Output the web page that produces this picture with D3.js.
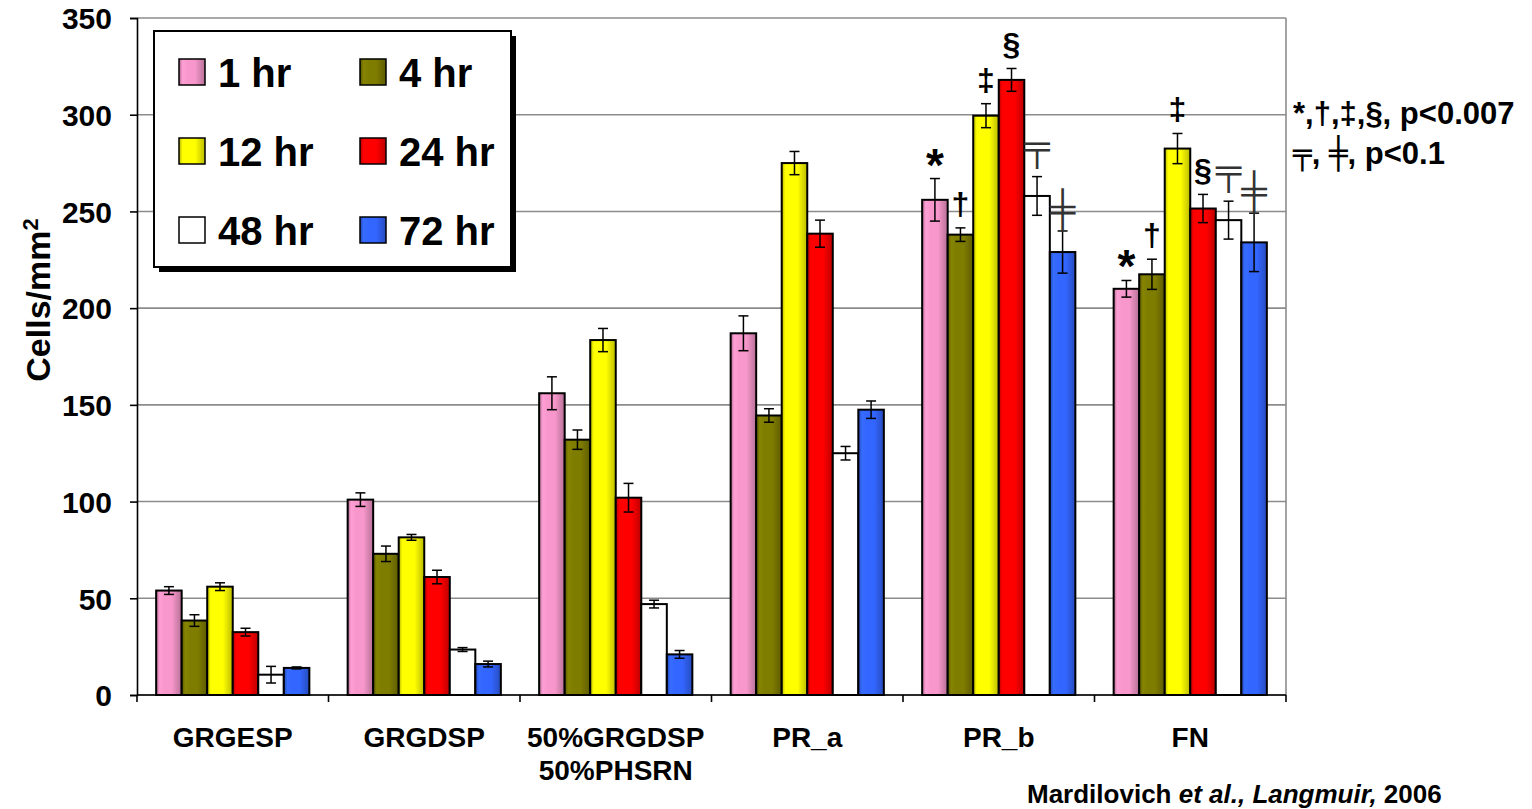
<!DOCTYPE html>
<html>
<head>
<meta charset="utf-8">
<script src="https://cdn.jsdelivr.net/npm/d3@7/dist/d3.min.js"></script>
<style>
  html, body { margin: 0; padding: 0; background: #fff; }
  svg { display: block; }
  text { font-family: "Liberation Sans", Arial, Helvetica, sans-serif; font-weight: bold; fill: #000; }
</style>
</head>
<body>
<svg id="chart" width="1532" height="809"></svg>
<script>
// Surfaces tested
const categories = ["GRGESP", "GRGDSP", "50%GRGDSP|50%PHSRN", "PR_a", "PR_b", "FN"];

// Incubation times (legend order)
const seriesNames = ["1 hr", "4 hr", "12 hr", "24 hr", "48 hr", "72 hr"];
const seriesColors = ["#f797cb", "#7f7d00", "#ffff00", "#ff0000", "#ffffff", "#3366ff"];

// Adhered cells per mm², one array per incubation time (values across categories)
const hr1  = [54, 101, 156, 187, 256, 210];
const hr4  = [38.5, 73, 132, 144.5, 238, 217.5];
const hr12 = [56, 81.5, 183.5, 275, 299.5, 282.5];
const hr24 = [32.5, 61, 102, 238.5, 318, 251.5];
const hr48 = [10.5, 23.5, 47, 125, 258, 245.5];
const hr72 = [14, 16, 21, 147.5, 229, 234];

// Standard errors, same layout
const hr1Err  = [2, 3.5, 8.5, 9, 11, 4.3];
const hr4Err  = [3, 4, 5, 3.5, 3.5, 7.8];
const hr12Err = [2, 1.5, 6, 6, 6.2, 7.8];
const hr24Err = [2, 3.5, 7.4, 7, 5.9, 7.3];
const hr48Err = [4.3, 1, 2, 3.5, 10, 9.8];
const hr72Err = [0.5, 1.5, 2, 4.5, 10.9, 15.1];

// Significance marks: [category index, series index, symbol]
const marks = [
  [4, 0, "*"], [4, 1, "\u2020"], [4, 2, "\u2021"], [4, 3, "\u00a7"], [4, 4, "\u2564"], [4, 5, "\u256a"],
  [5, 0, "*"], [5, 1, "\u2020"], [5, 2, "\u2021"], [5, 3, "\u00a7"], [5, 4, "\u2564"], [5, 5, "\u256a"]
];

const yTicks = [0, 50, 100, 150, 200, 250, 300, 350];

const values = [hr1, hr4, hr12, hr24, hr48, hr72];
const errors = [hr1Err, hr4Err, hr12Err, hr24Err, hr48Err, hr72Err];

const svg = d3.select("#chart");
const plot = { left: 137, right: 1286, top: 18, bottom: 695 };

const x = d3.scaleBand().domain(categories).range([plot.left, plot.right])
  .paddingInner(0.2).paddingOuter(0.1);
const xs = d3.scaleBand().domain(d3.range(seriesNames.length)).range([0, x.bandwidth()]);
const y = d3.scaleLinear().domain([0, 350]).range([plot.bottom, plot.top]);

// Shaded fills for the bars: darker edges, bright band left of centre
const defs = svg.append("defs");
seriesColors.forEach((c, i) => {
  const g = defs.append("linearGradient").attr("id", "shade" + i)
    .attr("x1", "0%").attr("x2", "100%").attr("y1", "0%").attr("y2", "0%");
  const base = d3.color(c);
  const stops = i === 4
    ? [[0, "#ffffff"], [1, "#ffffff"]]
    : [[0, base.darker(1.0)], [0.14, base.brighter(0.15)], [0.32, base], [0.62, base], [1, base.darker(0.85)]];
  stops.forEach(([o, col]) => g.append("stop").attr("offset", o).attr("stop-color", col));
});

// Horizontal gridlines
svg.append("g").selectAll("line").data(yTicks).join("line")
  .attr("x1", plot.left).attr("x2", plot.right)
  .attr("y1", d => y(d)).attr("y2", d => y(d))
  .attr("stroke", "#8c8c8c").attr("stroke-width", 1.6);
// Right border of the plot area
svg.append("line").attr("x1", plot.right).attr("x2", plot.right)
  .attr("y1", plot.top).attr("y2", plot.bottom)
  .attr("stroke", "#8c8c8c").attr("stroke-width", 1.6);

// Y axis
const yAxis = svg.append("g").attr("transform", `translate(${plot.left},0)`)
  .call(d3.axisLeft(y).tickValues(yTicks).tickSize(7).tickPadding(18).tickFormat(d3.format("d")));
yAxis.select(".domain").attr("stroke", "#000").attr("stroke-width", 1.6);
yAxis.selectAll(".tick line").attr("stroke", "#000").attr("stroke-width", 1.6);
yAxis.selectAll(".tick text").attr("font-size", 30).attr("font-family", null).attr("dy", "0.36em");

// Y axis title
svg.append("text")
  .attr("transform", "translate(50,300) rotate(-90)")
  .attr("text-anchor", "middle").attr("font-size", 34)
  .text("Cells/mm")
  .append("tspan").attr("baseline-shift", "super").attr("font-size", 22).text("2");

// Bars
const groups = svg.append("g").selectAll("g").data(categories).join("g")
  .attr("transform", d => `translate(${x(d)},0)`);

groups.each(function (cat, ci) {
  const g = d3.select(this);
  const rows = seriesNames.map((s, si) => ({ si, v: values[si][ci], e: errors[si][ci] }));
  g.selectAll("rect").data(rows).join("rect")
    .attr("x", d => xs(d.si)).attr("width", xs.bandwidth())
    .attr("y", d => y(d.v)).attr("height", d => y(0) - y(d.v))
    .attr("fill", d => `url(#shade${d.si})`)
    .attr("stroke", "#000").attr("stroke-width", 2);
  // Error bars
  const eb = g.selectAll("g.err").data(rows).join("g").attr("class", "err")
    .attr("stroke", "#000").attr("stroke-width", 1.5);
  const cx = d => xs(d.si) + xs.bandwidth() / 2;
  eb.append("line").attr("x1", cx).attr("x2", cx)
    .attr("y1", d => y(d.v + d.e)).attr("y2", d => y(d.v - d.e));
  eb.append("line").attr("x1", d => cx(d) - 5).attr("x2", d => cx(d) + 5)
    .attr("y1", d => y(d.v + d.e)).attr("y2", d => y(d.v + d.e));
  eb.append("line").attr("x1", d => cx(d) - 5).attr("x2", d => cx(d) + 5)
    .attr("y1", d => y(d.v - d.e)).attr("y2", d => y(d.v - d.e));
});

// X axis line with boundary ticks
svg.append("line").attr("x1", plot.left).attr("x2", plot.right)
  .attr("y1", plot.bottom).attr("y2", plot.bottom)
  .attr("stroke", "#000").attr("stroke-width", 1.6);
const step = x.step();
const bounds = d3.range(categories.length + 1).map(i => plot.left + i * step);
svg.append("g").selectAll("line").data(bounds).join("line")
  .attr("x1", d => d).attr("x2", d => d)
  .attr("y1", plot.bottom).attr("y2", plot.bottom + 7)
  .attr("stroke", "#000").attr("stroke-width", 1.6);

// Category labels (two lines where split by "|")
svg.append("g").selectAll("text").data(categories).join("text")
  .attr("x", d => x(d) + x.bandwidth() / 2)
  .attr("y", 747)
  .attr("text-anchor", "middle").attr("font-size", 28)
  .each(function (d) {
    const parts = d.split("|");
    d3.select(this).selectAll("tspan").data(parts).join("tspan")
      .attr("x", x(d) + x.bandwidth() / 2)
      .attr("dy", (p, i) => i === 0 ? 0 : 33)
      .text(p => p);
  });

// Significance symbols above error bars; per-glyph font settings and
// baseline shift that centres each glyph a fixed gap above the error cap
const glyphStyle = {
  "*":      { size: 46, family: null,          weight: "bold",   shift: 24, fill: "#000" },
  "\u2020": { size: 32, family: null,          weight: "bold",   shift: 9,  fill: "#000" },
  "\u2021": { size: 32, family: null,          weight: "bold",   shift: 9,  fill: "#000" },
  "\u00a7": { size: 32, family: null,          weight: "bold",   shift: 9,  fill: "#000" },
  "\u2564": { size: 36, family: "DejaVu Sans", weight: "normal", shift: 3,  fill: "#333" },
  "\u256a": { size: 36, family: "DejaVu Sans", weight: "normal", shift: 12, fill: "#333" }
};
const markGap = 22;
svg.append("g").selectAll("text").data(marks).join("text")
  .attr("x", d => x(categories[d[0]]) + xs(d[1]) + xs.bandwidth() / 2)
  .attr("y", d => y(values[d[1]][d[0]] + errors[d[1]][d[0]]) - markGap + glyphStyle[d[2]].shift)
  .attr("text-anchor", "middle")
  .attr("font-size", d => glyphStyle[d[2]].size)
  .attr("font-family", d => glyphStyle[d[2]].family)
  .attr("font-weight", d => glyphStyle[d[2]].weight)
  .style("fill", d => glyphStyle[d[2]].fill)
  .text(d => d[2]);

// Legend
const lg = svg.append("g");
lg.append("rect").attr("x", 159).attr("y", 36).attr("width", 357).attr("height", 236).attr("fill", "#000");
lg.append("rect").attr("x", 154).attr("y", 31).attr("width", 357).attr("height", 236)
  .attr("fill", "#fff").attr("stroke", "#000").attr("stroke-width", 2);
const items = lg.selectAll("g.item").data(seriesNames).join("g").attr("class", "item")
  .attr("transform", (d, i) => `translate(${i % 2 === 0 ? 179 : 360},${59 + Math.floor(i / 2) * 79})`);
items.append("rect").attr("width", 26).attr("height", 26)
  .attr("fill", (d, i) => `url(#shade${i})`).attr("stroke", "#000").attr("stroke-width", 1.5);
items.append("text").attr("x", 39).attr("y", 28).attr("font-size", 40).text(d => d);

// Significance key
const key = svg.append("g");
key.append("text").attr("x", 1293).attr("y", 124).attr("font-size", 31).text("*,\u2020,\u2021,\u00a7, p<0.007");
const k2 = key.append("text").attr("x", 1293).attr("y", 164).attr("font-size", 31);
k2.append("tspan").attr("font-family", "DejaVu Sans").attr("font-weight", "normal").text("\u2564");
k2.append("tspan").text(", ");
k2.append("tspan").attr("font-family", "DejaVu Sans").attr("font-weight", "normal").text("\u256a");
k2.append("tspan").text(", p<0.1");

// Citation
const cite = svg.append("text").attr("x", 1027).attr("y", 803).attr("font-size", 26);
cite.append("tspan").text("Mardilovich ");
cite.append("tspan").attr("font-style", "italic").text("et al., Langmuir,");
cite.append("tspan").text(" 2006");
</script>
</body>
</html>
